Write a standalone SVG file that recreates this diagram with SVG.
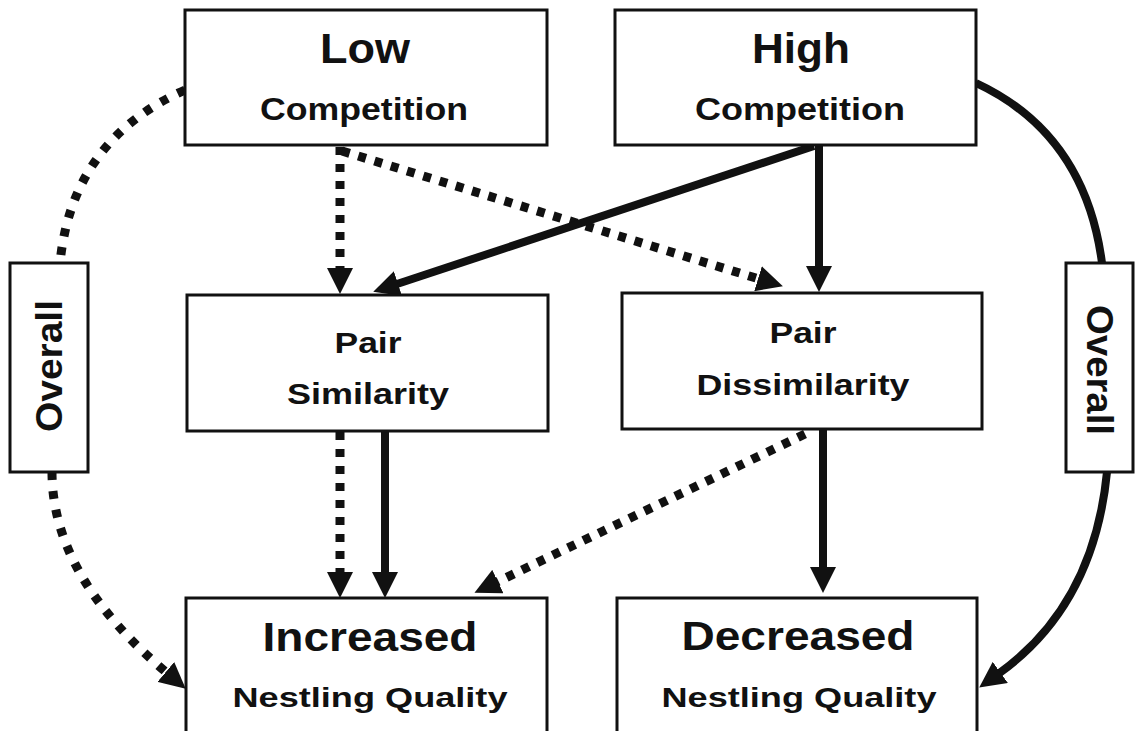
<svg xmlns="http://www.w3.org/2000/svg" width="1139" height="731" viewBox="0 0 1139 731">
<style>
.box{fill:#fff;stroke:#111;stroke-width:3}
.t{font-family:"Liberation Sans",Arial,sans-serif;font-weight:bold;fill:#111;text-anchor:middle}
.solid{fill:none;stroke:#111;stroke-width:8}
.dot{fill:none;stroke:#111;stroke-width:9;stroke-dasharray:8 9}
.dotc{fill:none;stroke:#111;stroke-width:9;stroke-dasharray:8 11}
</style>
<defs>
<marker id="ah" markerUnits="userSpaceOnUse" markerWidth="27" markerHeight="26" viewBox="0 0 27 26" refX="1" refY="13" orient="auto">
<path d="M0,0 L26,13 L0,26 z" fill="#111"/>
</marker>
</defs>
<g id="connectors">
<path class="dotc" d="M185,90 Q72,140 60,263"/>
<path class="dotc" d="M52,472 Q52,576 166.6,672.6" marker-end="url(#ah)"/>
<path class="solid" d="M976,83 Q1085,134 1102,263"/>
<path class="solid" d="M1107,472 Q1094,605 999.5,673" marker-end="url(#ah)"/>
<path class="dot" d="M340,147 V269" marker-end="url(#ah)"/>
<path class="dot" d="M342,151 L759,279" marker-end="url(#ah)"/>
<path class="solid" d="M814,146 L397,284" marker-end="url(#ah)"/>
<path class="solid" d="M819,146 V267" marker-end="url(#ah)"/>
<path class="dot" d="M340,432 V573" marker-end="url(#ah)"/>
<path class="solid" d="M385,432 V573" marker-end="url(#ah)"/>
<path class="dot" d="M805,434 L497,582" marker-end="url(#ah)"/>
<path class="solid" d="M823,430 V568" marker-end="url(#ah)"/>
</g>
<g id="low">
<rect class="box" x="185" y="10" width="362" height="135"/>
<text class="t" x="365" y="63" font-size="43" textLength="90" lengthAdjust="spacingAndGlyphs">Low</text>
<text class="t" x="364" y="120" font-size="32" textLength="208" lengthAdjust="spacingAndGlyphs">Competition</text>
</g>
<g id="high">
<rect class="box" x="615" y="10" width="361" height="135"/>
<text class="t" x="801" y="63" font-size="43" textLength="98" lengthAdjust="spacingAndGlyphs">High</text>
<text class="t" x="800" y="120" font-size="32" textLength="210" lengthAdjust="spacingAndGlyphs">Competition</text>
</g>
<g id="pairsim">
<rect class="box" x="187" y="295" width="361" height="136"/>
<text class="t" x="368" y="353" font-size="29" textLength="67" lengthAdjust="spacingAndGlyphs">Pair</text>
<text class="t" x="368" y="404" font-size="30" textLength="162" lengthAdjust="spacingAndGlyphs">Similarity</text>
</g>
<g id="pairdissim">
<rect class="box" x="622" y="293" width="360" height="136"/>
<text class="t" x="803" y="343" font-size="29" textLength="67" lengthAdjust="spacingAndGlyphs">Pair</text>
<text class="t" x="803" y="395" font-size="30" textLength="213" lengthAdjust="spacingAndGlyphs">Dissimilarity</text>
</g>
<g id="increased">
<rect class="box" x="186" y="598" width="361" height="145"/>
<text class="t" x="370" y="651" font-size="40" textLength="215" lengthAdjust="spacingAndGlyphs">Increased</text>
<text class="t" x="370" y="707" font-size="28" textLength="275" lengthAdjust="spacingAndGlyphs">Nestling Quality</text>
</g>
<g id="decreased">
<rect class="box" x="617" y="598" width="360" height="145"/>
<text class="t" x="798" y="650" font-size="40" textLength="233" lengthAdjust="spacingAndGlyphs">Decreased</text>
<text class="t" x="799" y="707" font-size="28" textLength="275" lengthAdjust="spacingAndGlyphs">Nestling Quality</text>
</g>
<g id="overall-left">
<rect class="box" x="10" y="263" width="78" height="209"/>
<text class="t" transform="translate(49,366) rotate(-90)" x="0" y="13" font-size="36" textLength="132" lengthAdjust="spacingAndGlyphs">Overall</text>
</g>
<g id="overall-right">
<rect class="box" x="1066" y="263" width="67" height="209"/>
<text class="t" transform="translate(1100,370) rotate(90)" x="0" y="13" font-size="36" textLength="130" lengthAdjust="spacingAndGlyphs">Overall</text>
</g>
</svg>
